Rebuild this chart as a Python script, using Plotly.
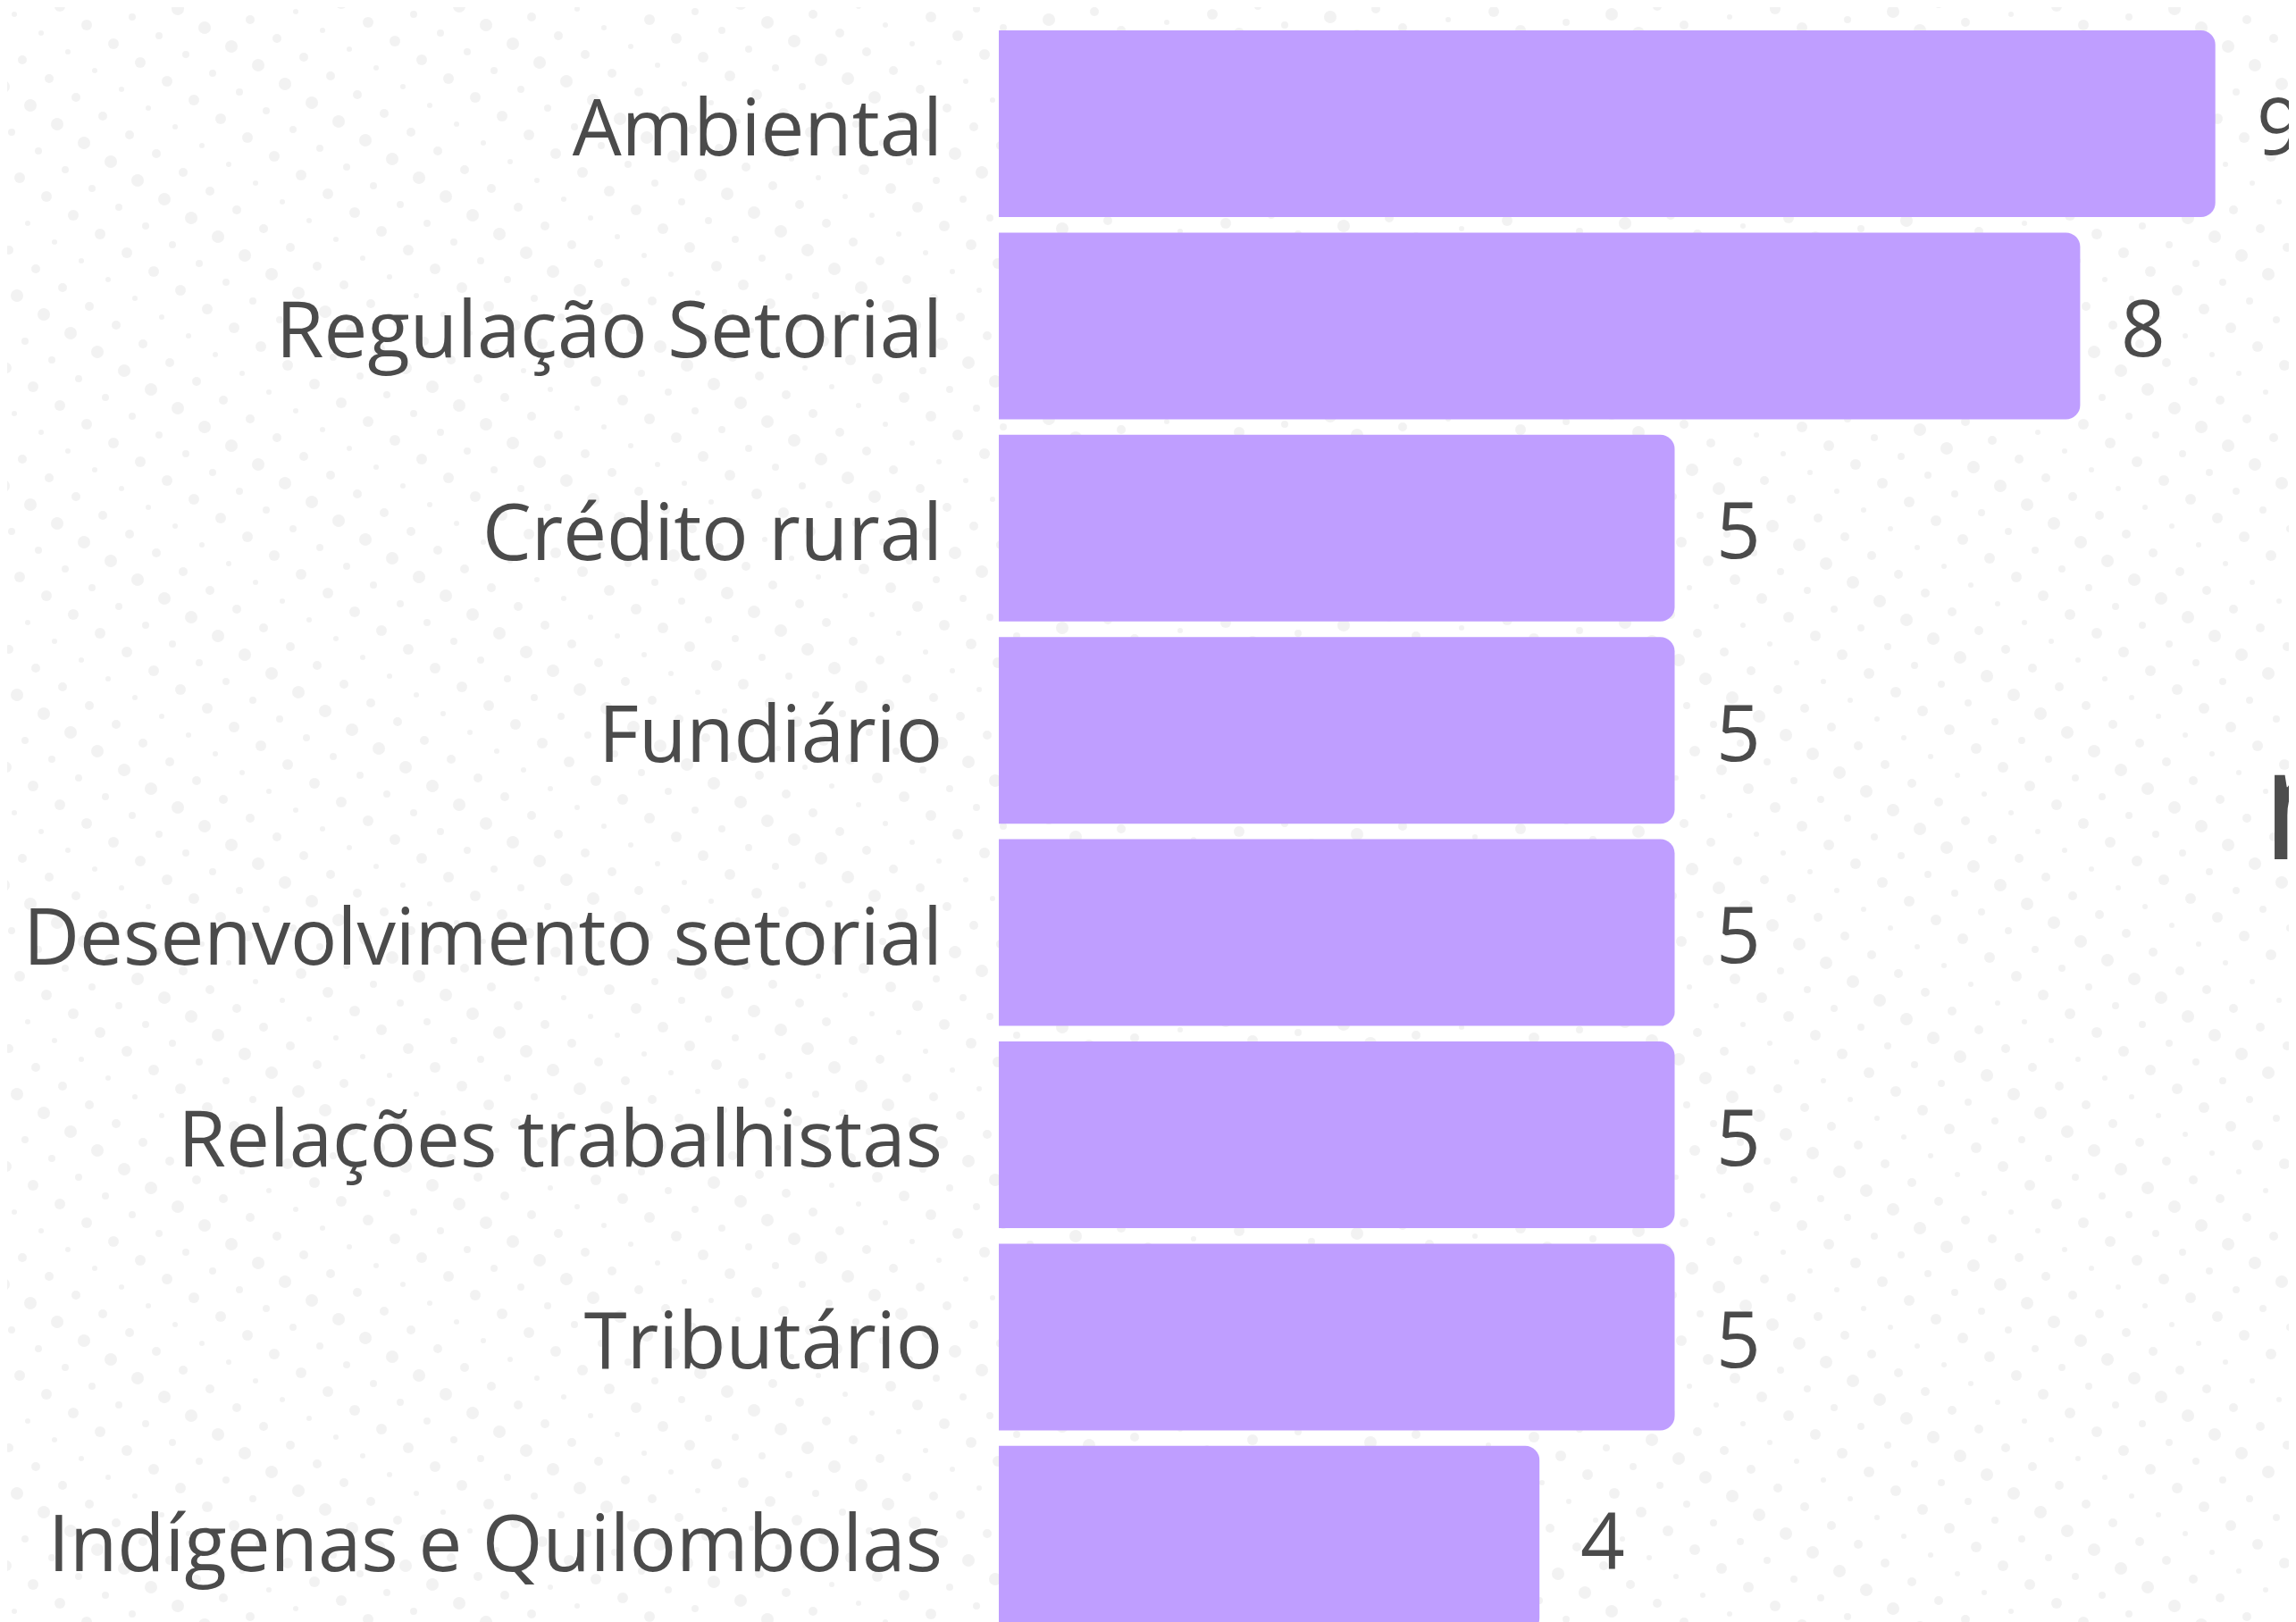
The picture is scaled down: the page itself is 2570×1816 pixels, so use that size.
import numpy as np
import plotly.graph_objects as go

categories = ["Ambiental", "Regulação Setorial", "Crédito rural", "Fundiário",
              "Desenvolvimento setorial", "Relações trabalhistas", "Tributário",
              "Indígenas e Quilombolas"]
values = [9, 8, 5, 5, 5, 5, 5, 4]

W, H = 2570, 1816
OFF = 8  # page body margin compensation
BAR_COLOR = "#bf9eff"
TEXT_COLOR = "#4b4b4b"
FONT = "Open Sans"

# decorative dotted background (regular lattice)
px, py, ps = [], [], []
for i in range(-60, 80):
    for j in range(-10, 110):
        x = i * 51 + j * 30
        y = -i * 9 + j * 21
        if -20 <= x <= W + 20 and -20 <= y <= H + 20:
            px.append(x)
            py.append(y)
            ps.append(6 + ((i * 3 + j * 5) % 5) * 2)

fig = go.Figure()
fig.add_trace(go.Scatter(
    x=px, y=py, mode="markers",
    marker=dict(size=ps, color="#ededed", line=dict(width=0)),
    hoverinfo="skip", showlegend=False, xaxis="x", yaxis="y"))

fig.add_trace(go.Bar(
    x=values, y=categories, orientation="h",
    marker=dict(color=BAR_COLOR, cornerradius=16, line=dict(width=0)),
    showlegend=False, xaxis="x2", yaxis="y2"))

left_px = 1118 - OFF
top_px = 34 - 8.7 - OFF
unit_px = 151.3
band_px = 226.4

annotations = []
for c, v in zip(categories, values):
    annotations.append(dict(
        x=v, y=c, xref="x2", yref="y2", text=str(v), showarrow=False,
        xanchor="left", yanchor="middle", xshift=44,
        font=dict(size=87, color=TEXT_COLOR, family=FONT)))

annotations.append(dict(
    x=(2529 - OFF) / W, y=1 - (894 - OFF) / H, xref="paper", yref="paper", text="n",
    showarrow=False, xanchor="left", yanchor="middle",
    font=dict(size=176, color="#4d4d4d", family=FONT)))

fig.update_layout(
    width=W, height=H,
    margin=dict(l=0, r=0, t=0, b=0),
    paper_bgcolor="white", plot_bgcolor="rgba(0,0,0,0)",
    font=dict(family=FONT, color=TEXT_COLOR),
    bargap=1 - 209 / band_px,
    xaxis=dict(domain=[0, 1], range=[-OFF, W - OFF], visible=False, fixedrange=True),
    yaxis=dict(domain=[0, 1], range=[H - OFF, -OFF], visible=False, fixedrange=True),
    xaxis2=dict(domain=[left_px / W, 1], range=[0, (W - left_px) / unit_px],
                anchor="y2", showgrid=False, zeroline=False, showticklabels=False,
                showline=False),
    yaxis2=dict(domain=[0, 1 - top_px / H],
                range=[-0.5 + (H - top_px) / band_px, -0.5],
                anchor="x2", type="category", showgrid=False, zeroline=False,
                showline=False, ticks="", ticklabelstandoff=62, ticklabelshift=-5,
                tickfont=dict(size=87, color=TEXT_COLOR, family=FONT)),
    annotations=annotations,
)

fig.write_html("out.html")
